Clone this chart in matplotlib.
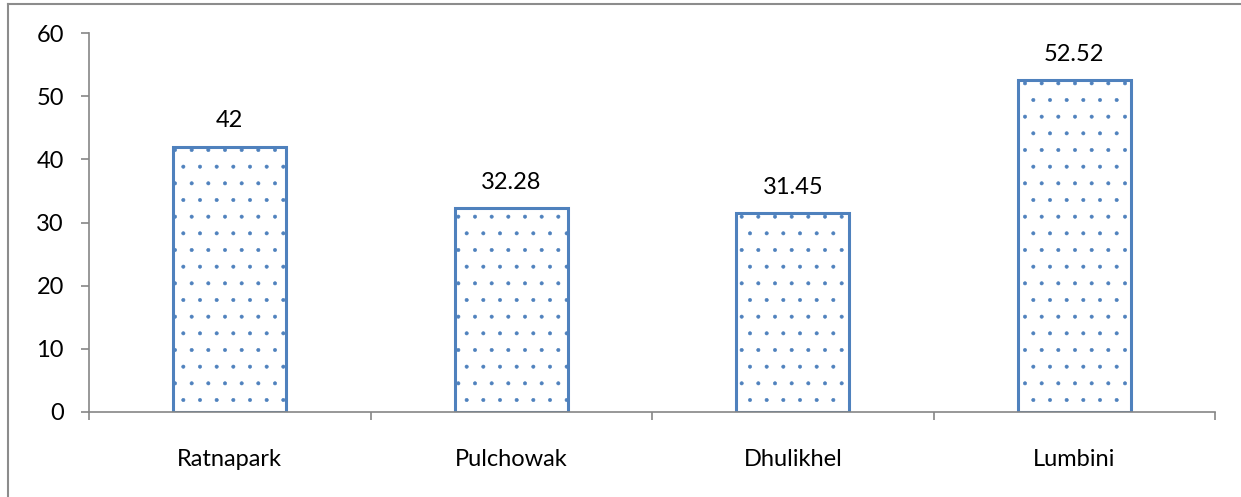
import matplotlib
matplotlib.use("Agg")
import matplotlib.pyplot as plt
from matplotlib.lines import Line2D

# station values
stations = ["Ratnapark", "Pulchowak", "Dhulikhel", "Lumbini"]
values = [42, 32.28, 31.45, 52.52]
value_labels = ["42", "32.28", "31.45", "52.52"]
yticks = [0, 10, 20, 30, 40, 50, 60]

plt.rcParams["font.family"] = ["Lato", "DejaVu Sans"]
plt.rcParams["hatch.color"] = "#7AA2DA"
plt.rcParams["hatch.linewidth"] = 0.4

W, H = 1241, 497
fig = plt.figure(figsize=(W / 100, H / 100), dpi=100)
ax = fig.add_axes([89 / W, 1 - 412 / H, (1215 - 89) / W, (412 - 33) / H])

x = range(len(stations))
bars = ax.bar(x, values, width=0.4, facecolor="white", edgecolor="#4F81BD",
              linewidth=2.2, hatch=".")

for b, lab in zip(bars, value_labels):
    ax.annotate(lab, (b.get_x() + b.get_width() / 2, b.get_height()),
                xytext=(0, 11), textcoords="offset points",
                ha="center", va="bottom", fontsize=17)

ax.set_xlim(-0.5, len(stations) - 0.5)
ax.set_ylim(0, 60)
ax.set_yticks(yticks)
ax.set_xticks(list(x))
ax.set_xticklabels(stations, fontsize=17)
ax.set_xticks([i - 0.5 for i in range(len(stations) + 1)], minor=True)
ax.tick_params(axis="x", which="major", length=0, pad=27)
ax.tick_params(axis="x", which="minor", length=6, direction="out",
               color="#868686", width=1.2)
ax.tick_params(axis="y", length=6, direction="out", color="#868686",
               width=1.2, labelsize=17, pad=12)

for s in ["top", "right"]:
    ax.spines[s].set_visible(False)
for s in ["left", "bottom"]:
    ax.spines[s].set_color("#868686")
    ax.spines[s].set_linewidth(1.2)

# chart area border (top and left edges)
fig.add_artist(Line2D([7.5 / W, 7.5 / W], [0, 1 - 3.5 / H],
                      transform=fig.transFigure, color="#8C8C8C", lw=1.5))
fig.add_artist(Line2D([7.5 / W, 1], [1 - 3.5 / H, 1 - 3.5 / H],
                      transform=fig.transFigure, color="#8C8C8C", lw=1.5))

fig.savefig("out.png", dpi=100)
